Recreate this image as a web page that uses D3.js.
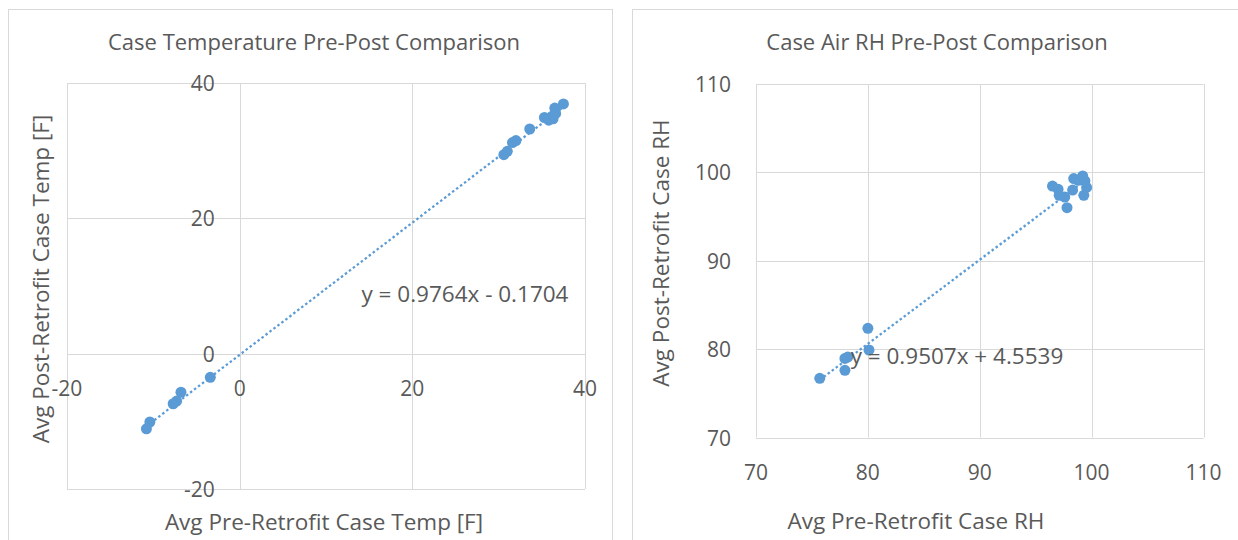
<!DOCTYPE html>
<html>
<head>
<meta charset="utf-8">
<script src="https://cdn.jsdelivr.net/npm/d3@7"></script>
<style>
  body { margin: 0; background: #fff; }
  text { font-family: "Open Sans", sans-serif; fill: #595959; }
</style>
</head>
<body>
<svg id="chart" width="1238" height="540"></svg>
<script>
// ---- data ----
// Case temperature (F): pre vs post retrofit
const tempPre  = [-10.8, -10.4, -7.7, -7.3, -6.8, -3.4, 30.6, 31.0, 31.6, 32.0, 33.6, 35.3, 35.8, 36.2, 36.3, 36.6, 36.5, 37.5];
const tempPost = [-11.1, -10.1, -7.4, -7.0, -5.7, -3.5, 29.4, 29.9, 31.2, 31.5, 33.2, 34.9, 34.5, 35.1, 34.7, 35.5, 36.3, 36.9];
const tempTicks = [-20, 0, 20, 40];
const tempFit = { slope: 0.9764, icept: -0.1704, label: "y = 0.9764x - 0.1704" };

// Case air RH: pre vs post retrofit
const rhPre  = [75.7, 77.95, 77.95, 78.2, 80.0, 80.1, 96.5, 97.0, 97.1, 97.6, 97.8, 98.3, 98.4, 98.8, 99.2, 99.3, 99.4, 99.55];
const rhPost = [76.7, 77.6, 78.95, 79.1, 82.35, 79.9, 98.45, 98.1, 97.4, 97.2, 96.0, 98.0, 99.3, 99.1, 99.6, 97.4, 99.05, 98.3];
const rhTicks = [70, 80, 90, 100, 110];
const rhFit = { slope: 0.9507, icept: 4.5539, label: "y = 0.9507x + 4.5539" };

const blue = "#5b9bd5";
const grid = "#d9d9d9";
const svg = d3.select("#chart");

// chart frames
svg.append("rect").attr("x", 8.5).attr("y", 9.5).attr("width", 604).attr("height", 560)
  .attr("fill", "none").attr("stroke", grid);
svg.append("rect").attr("x", 632.5).attr("y", 9.5).attr("width", 620).attr("height", 560)
  .attr("fill", "none").attr("stroke", grid);

function drawScatter(cfg) {
  const x = d3.scaleLinear().domain(cfg.domain).range(cfg.xRange);
  const y = d3.scaleLinear().domain(cfg.domain).range(cfg.yRange);
  const g = svg.append("g");

  // gridlines
  g.selectAll(".vg").data(cfg.ticks).enter().append("line")
    .attr("x1", d => Math.round(x(d)) + 0.5).attr("x2", d => Math.round(x(d)) + 0.5)
    .attr("y1", cfg.yRange[0]).attr("y2", cfg.yRange[1])
    .attr("stroke", grid);
  g.selectAll(".hg").data(cfg.ticks).enter().append("line")
    .attr("y1", d => Math.round(y(d)) + 0.5).attr("y2", d => Math.round(y(d)) + 0.5)
    .attr("x1", cfg.xRange[0]).attr("x2", cfg.xRange[1])
    .attr("stroke", grid);

  // where the axes cross
  const xCross = x(cfg.cross), yCross = y(cfg.cross);

  // tick labels
  g.selectAll(".xl").data(cfg.ticks).enter().append("text")
    .attr("x", d => x(d)).attr("y", yCross + 34)
    .attr("text-anchor", "middle").attr("dominant-baseline", "central")
    .style("font-size", "21px").text(d => d);
  g.selectAll(".yl").data(cfg.ticks).enter().append("text")
    .attr("x", xCross - 25).attr("y", d => y(d))
    .attr("text-anchor", "end").attr("dominant-baseline", "central")
    .style("font-size", "21px").text(d => d);

  // trendline over the range of x data
  const xe = d3.extent(cfg.xs);
  g.append("line")
    .attr("x1", x(xe[0])).attr("y1", y(cfg.fit.slope * xe[0] + cfg.fit.icept))
    .attr("x2", x(xe[1])).attr("y2", y(cfg.fit.slope * xe[1] + cfg.fit.icept))
    .attr("stroke", blue).attr("stroke-width", 2.25)
    .attr("stroke-dasharray", "2.5,2.5");

  // points
  g.selectAll(".pt").data(cfg.xs).enter().append("circle")
    .attr("cx", d => x(d)).attr("cy", (d, i) => y(cfg.ys[i]))
    .attr("r", 5.5).attr("fill", blue);

  // equation label
  g.append("text").attr("x", cfg.eqPos[0]).attr("y", cfg.eqPos[1])
    .attr("text-anchor", "middle").attr("dominant-baseline", "central")
    .style("font-size", "22.5px").text(cfg.fit.label);

  // titles
  g.append("text").attr("x", cfg.titlePos[0]).attr("y", cfg.titlePos[1])
    .attr("text-anchor", "middle").attr("dominant-baseline", "central")
    .style("font-size", "22px").text(cfg.title);
  g.append("text").attr("x", cfg.xTitlePos[0]).attr("y", cfg.xTitlePos[1])
    .attr("text-anchor", "middle").attr("dominant-baseline", "central")
    .style("font-size", "22.5px").text(cfg.xTitle);
  g.append("text")
    .attr("transform", `translate(${cfg.yTitlePos[0]},${cfg.yTitlePos[1]}) rotate(-90)`)
    .attr("text-anchor", "middle").attr("dominant-baseline", "central")
    .style("font-size", "22.5px").text(cfg.yTitle);
}

drawScatter({
  xs: tempPre, ys: tempPost, ticks: tempTicks, fit: tempFit,
  domain: [-20, 40], cross: 0,
  xRange: [67, 585], yRange: [489, 83],
  eqPos: [465, 293],
  title: "Case Temperature  Pre-Post Comparison", titlePos: [314, 41],
  xTitle: "Avg Pre-Retrofit Case Temp [F]", xTitlePos: [324, 521],
  yTitle: "Avg Post-Retrofit Case Temp [F]", yTitlePos: [40, 279]
});

drawScatter({
  xs: rhPre, ys: rhPost, ticks: rhTicks, fit: rhFit,
  domain: [70, 110], cross: 70,
  xRange: [756, 1203.5], yRange: [437.5, 84],
  eqPos: [957, 355],
  title: "Case Air RH Pre-Post Comparison", titlePos: [937, 41],
  xTitle: "Avg Pre-Retrofit Case RH", xTitlePos: [916, 520],
  yTitle: "Avg Post-Retrofit Case RH", yTitlePos: [660, 253]
});
</script>
</body>
</html>
